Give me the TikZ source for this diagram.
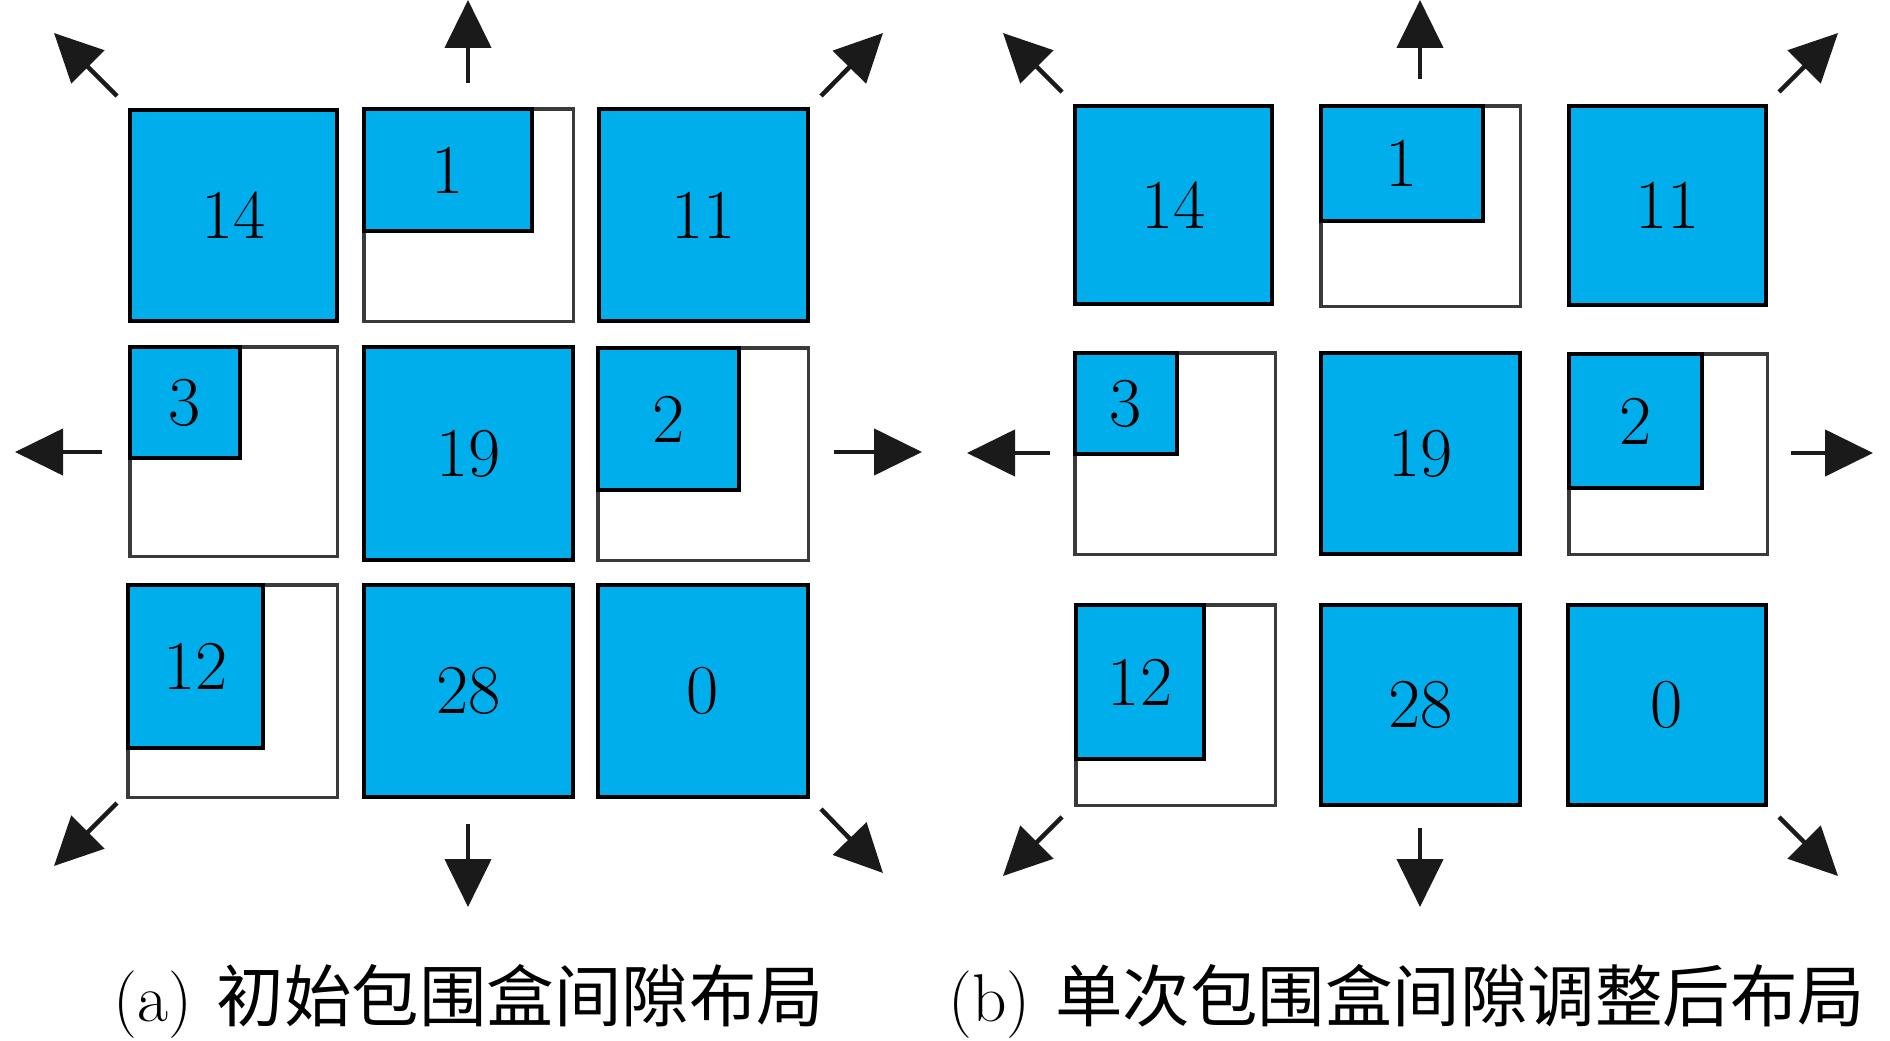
\documentclass[tikz,border=0pt]{standalone}
\usepackage{fontspec}
\newfontfamily\cjkfont{Noto Sans CJK SC}
\usetikzlibrary{arrows.meta}
\definecolor{boxblue}{RGB}{0,174,236}
\definecolor{outlinegray}{RGB}{58,58,58}
\definecolor{arrowblack}{RGB}{26,26,26}
\tikzset{
  bluebox/.style={rectangle, draw=black, fill=boxblue, line width=4pt, inner sep=0pt, outer sep=0pt,
    font=\fontsize{70}{84}\selectfont},
  graybox/.style={rectangle, draw=outlinegray, fill=white, line width=3.5pt, inner sep=0pt, outer sep=0pt},
  outarrow/.style={draw=arrowblack, line width=4.5pt, -{Triangle[length=48pt,width=46pt]}},
  captext/.style={anchor=base west, inner sep=0pt, font=\fontsize{67.5}{80}\selectfont}
}
\newcommand\BlueBox[6]{\node[bluebox, minimum width={(#4-#2)*1pt}, minimum height={(#5-#3)*1pt}] (#1) at ({(#2+#4)/2},{(#3+#5)/2}) {#6};}
\newcommand\GrayBox[5]{\node[graybox, minimum width={(#4-#2)*1pt}, minimum height={(#5-#3)*1pt}] (#1) at ({(#2+#4)/2},{(#3+#5)/2}) {};}
\newcommand\OutArrow[5]{\coordinate (#1s) at (#2,#3); \coordinate (#1e) at (#4,#5); \draw[outarrow] (#1s) -- (#1e);}
\begin{document}
\begin{tikzpicture}[x=1pt,y=-1pt]
\useasboundingbox (0,0) rectangle (1890,1041);
% ---------- panel (a) ----------
\GrayBox{a1o}{363.75}{108.75}{573.25}{321.25}
\GrayBox{a3o}{129.75}{346.75}{337.25}{556.25}
\GrayBox{a2o}{597.75}{347.75}{808.25}{560.25}
\GrayBox{a12o}{127.75}{584.75}{337.25}{797.25}
\BlueBox{a14}{130}{110}{337}{321}{14}
\BlueBox{a1}{364}{109}{532}{231}{1}
\BlueBox{a11}{599}{109}{808}{321}{11}
\BlueBox{a3}{130}{347}{240}{458}{3}
\BlueBox{a19}{364}{347}{573}{560}{19}
\BlueBox{a2}{598}{348}{739}{490}{2}
\BlueBox{a12}{128}{585}{263}{748}{12}
\BlueBox{a28}{364}{585}{573}{797}{28}
\BlueBox{a0}{598}{585}{808}{797}{0}
\OutArrow{aNW}{117}{96}{54}{33}
\OutArrow{aN}{468}{83}{468}{0}
\OutArrow{aNE}{821}{96}{883}{33}
\OutArrow{aW}{102}{452}{15}{452}
\OutArrow{aE}{834}{452}{922}{452}
\OutArrow{aSW}{117}{803}{54}{866}
\OutArrow{aS}{468}{824}{468}{907}
\OutArrow{aSE}{821}{809}{883}{873}
% ---------- panel (b) ----------
\GrayBox{b1o}{1320.75}{105.75}{1520.25}{306.25}
\GrayBox{b3o}{1074.75}{352.75}{1275.25}{554.25}
\GrayBox{b2o}{1568.75}{353.75}{1767.25}{554.25}
\GrayBox{b12o}{1075.75}{604.75}{1275.25}{805.25}
\BlueBox{b14}{1075}{106}{1272}{304}{14}
\BlueBox{b1}{1321}{106}{1483}{221}{1}
\BlueBox{b11}{1569}{106}{1766}{305}{11}
\BlueBox{b3}{1075}{353}{1177}{454}{3}
\BlueBox{b19}{1321}{353}{1520}{554}{19}
\BlueBox{b2}{1569}{354}{1702}{488}{2}
\BlueBox{b12}{1076}{605}{1204}{759}{12}
\BlueBox{b28}{1321}{605}{1520}{805}{28}
\BlueBox{b0}{1568}{605}{1766}{805}{0}
\OutArrow{bNW}{1062}{92}{1003}{33}
\OutArrow{bN}{1420}{79}{1420}{0}
\OutArrow{bNE}{1779}{92}{1838}{33}
\OutArrow{bW}{1050}{453}{967}{453}
\OutArrow{bE}{1791}{453}{1873}{453}
\OutArrow{bSW}{1062}{817}{1003}{876}
\OutArrow{bS}{1420}{828}{1420}{907}
\OutArrow{bSE}{1779}{817}{1838}{876}
% ---------- captions ----------
\node[captext] (capa) at (113,1021) {(a)\hspace{25pt}{\cjkfont 初始包围盒间隙布局}};
\node[captext] (capb) at (948,1021) {(b)\hspace{25pt}{\cjkfont 单次包围盒间隙调整后布局}};
\end{tikzpicture}
\end{document}
